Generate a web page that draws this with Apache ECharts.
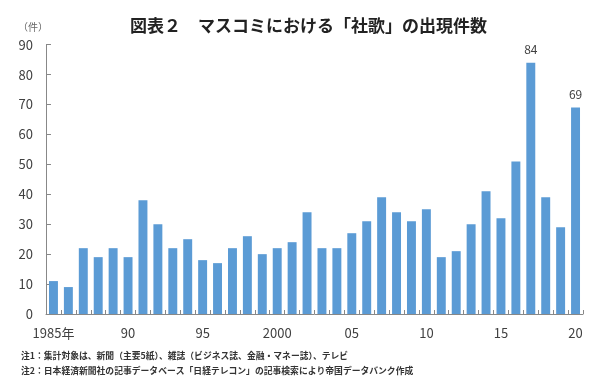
<!DOCTYPE html>
<html><head><meta charset="utf-8">
<script src="https://cdn.jsdelivr.net/npm/echarts@6/dist/echarts.min.js"></script>
<style>html,body{margin:0;padding:0;background:#fff}#c{width:600px;height:381px}</style>
</head><body><div id="c"></div>
<script>
const years = [1985,1986,1987,1988,1989,1990,1991,1992,1993,1994,1995,1996,1997,1998,1999,2000,2001,2002,2003,2004,2005,2006,2007,2008,2009,2010,2011,2012,2013,2014,2015,2016,2017,2018,2019,2020];
const counts = [11,9,22,19,22,19,38,30,22,25,18,17,22,26,20,22,24,34,22,22,27,31,39,34,31,35,19,21,30,41,32,51,84,39,29,69];
const labeledYears = [2017, 2020];
const yTicks = [0,10,20,30,40,50,60,70,80,90];
const titleText = '図表２　マスコミにおける「社歌」の出現件数';
const unitText = '（件）';
const note1 = '注1：集計対象は、新聞（主要5紙）、雑誌（ビジネス誌、金融・マネー誌）、テレビ';
const note2 = '注2：日本経済新聞社の記事データベース「日経テレコン」の記事検索により帝国データバンク作成';

function yearLabel(v){
  const y = Number(v);
  if (y === 1985) return '1985年';
  if (y === 2000) return '2000';
  return String(y % 100).padStart(2,'0');
}

const font = '"Noto Sans CJK JP", "Noto Sans", sans-serif';
const chart = echarts.init(document.getElementById('c'), null, {renderer:'canvas'});
chart.setOption({
  animation:false,
  textStyle:{fontFamily:font},
  title:[
    {text:titleText, left:125, top:12, textStyle:{fontFamily:font, fontSize:17, fontWeight:'bold', color:'#222'}},
    {text:unitText, left:13, top:17, textStyle:{fontFamily:font, fontSize:10, fontWeight:'normal', color:'#666'}},
    {text:note1, left:16, top:346, textStyle:{fontFamily:font, fontSize:8.8, fontWeight:'bold', color:'#333'}},
    {text:note2, left:16, top:361, textStyle:{fontFamily:font, fontSize:8.8, fontWeight:'bold', color:'#333'}}
  ],
  grid:{left:46, right:17, top:44.7, bottom:67, containLabel:false},
  xAxis:{
    type:'category',
    data:years.map(String),
    boundaryGap:true,
    axisLine:{lineStyle:{color:'#888', width:1}},
    axisTick:{show:true, inside:true, length:4, interval:0, lineStyle:{color:'#888'}},
    axisLabel:{interval:4, margin:13, fontSize:13, color:'#404040', fontFamily:font, formatter:yearLabel}
  },
  yAxis:{
    type:'value', min:yTicks[0], max:yTicks[yTicks.length-1], interval:10,
    splitLine:{show:false},
    axisLine:{show:true, lineStyle:{color:'#888', width:1}},
    axisTick:{show:true, inside:true, length:5, lineStyle:{color:'#888'}},
    axisLabel:{margin:13, fontSize:13, color:'#404040', fontFamily:font}
  },
  series:[{
    type:'bar',
    data:counts.map((v,i)=>({value:v, label:{show:labeledYears.includes(years[i])}})),
    barCategoryGap:'40%',
    itemStyle:{color:'#5B9BD5'},
    label:{position:'top', distance:7, fontSize:12, color:'#404040', fontFamily:font}
  }]
});
</script></body></html>
